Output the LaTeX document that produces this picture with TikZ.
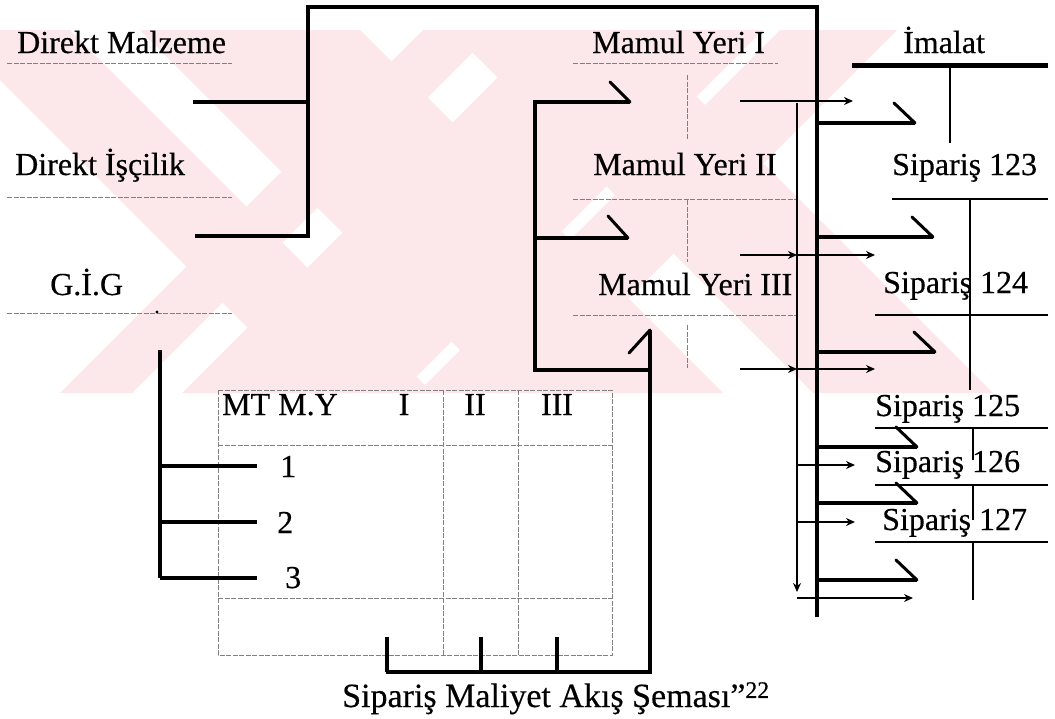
\documentclass[tikz,border=0pt]{standalone}
\usepackage{fontspec}
\setmainfont{Liberation Serif}[FakeBold=0.4]
\usetikzlibrary{arrows.meta}
\definecolor{wmark}{RGB}{252,232,235}

\begin{document}
\begin{tikzpicture}[x=1pt, y=-1pt, >={Stealth[length=9pt,width=8pt]},
    heavy/.style={line width=4pt},
    barb/.style={line width=3pt, line cap=round},
    stem/.style={line width=2.2pt},
    thinarrow/.style={line width=1.5pt, ->},
    dotrule/.style={gray, line width=0.8pt, dash pattern=on 5pt off 1.5pt},
    lbl/.style={anchor=base west, inner sep=0pt, font=\fontsize{32}{38}\selectfont}]
    \useasboundingbox (0,0) rectangle (1055,718);

    % watermark bands: / bands by x+y, \ bands by x-y
    \begin{scope}
        \clip (0,30) rectangle (1055,393);
        \foreach \a/\b in {453/525, 575/793, 810/927}
            \fill[wmark] (\a-30,30) -- (\b-30,30) -- (\b-393,393) -- (\a-393,393) -- cycle;
        \foreach \a/\b in {-80/40, 110/330, 420/600}
            \fill[wmark] (\a+30,30) -- (\b+30,30) -- (\b+393,393) -- (\a+393,393) -- cycle;
    \end{scope}

    % labels
    \node[lbl] (dm) at (17,53) {Direkt Malzeme};
    \node[lbl] (di) at (15,175) {Direkt İşçilik};
    \node[lbl] (gig) at (50,295) {G.İ.G};
    \node[lbl] (my1) at (592,53) {Mamul Yeri I};
    \node[lbl] (my2) at (593,175) {Mamul Yeri II};
    \node[lbl] (my3) at (598,295) {Mamul Yeri III};
    \node[lbl] (imalat) at (903,53) {İmalat};
    \node[lbl] (s123) at (892,175) {Sipariş 123};
    \node[lbl] (s124) at (883,293) {Sipariş 124};
    \node[lbl] (s125) at (875,416) {Sipariş 125};
    \node[lbl] (s126) at (875,472) {Sipariş 126};
    \node[lbl] (s127) at (882,530) {Sipariş 127};

    % underlines
    \foreach \y in {63,197,313}
        \draw[dotrule] (7,\y) -- (232,\y);
    \fill (157,312) circle (1.6pt);
    \draw[dotrule] (573,63) -- (778,63);
    \draw[dotrule] (573,199) -- (797,199);
    \draw[dotrule] (573,315) -- (797,315);
    \draw[dotrule] (687,75) -- (687,140);
    \draw[dotrule] (687,200) -- (687,262);
    \draw[dotrule] (687,325) -- (687,368);

    % table
    \draw[dotrule] (218,390) rectangle (612,655);
    \draw[dotrule] (218,445) -- (612,445);
    \draw[dotrule] (218,598) -- (612,598);
    \foreach \x in {443,518}
        \draw[dotrule] (\x,390) -- (\x,655);
    \node[lbl] (mtmy) at (222,415) {MT M.Y};
    \node[lbl, anchor=base] (c1) at (404,415) {I};
    \node[lbl, anchor=base] (c2) at (475,415) {II};
    \node[lbl, anchor=base] (c3) at (557,415) {III};
    \node[lbl] (r1) at (280,477) {1};
    \node[lbl] (r2) at (277,533) {2};
    \node[lbl] (r3) at (285,588) {3};

    % direct costs into the spine
    \draw[heavy] (193,102) -- (308,102);
    \draw[heavy] (195,236) -- (308,236) -- (308,7) -- (817,7) -- (817,617);

    % G.I.G bracket
    \draw[heavy] (160,350) -- (160,578);
    \foreach \y in {466,522,578}
        \draw[heavy] (160,\y) -- (257,\y);

    % mamul yeri bracket
    \draw[heavy] (630,102) -- (535,102) -- (535,370) -- (650,370);
    \draw[heavy] (535,238) -- (628,238);
    \draw[barb] (630,102) -- (610,82);
    \draw[barb] (628,238) -- (608,216);
    \draw[heavy] (386,672) -- (650,672) -- (650,330);
    \draw[barb] (650,330) -- (629,353);
    \foreach \x in {387,481,557}
        \draw[heavy] (\x,672) -- (\x,637);

    % imalat and orders
    \draw[line width=5pt] (852,65) -- (1048,65);
    \draw[stem] (950,65) -- (950,143);
    \draw[stem] (892,199) -- (1048,199);
    \draw[stem] (970,199) -- (970,390);
    \draw[stem] (875,315) -- (1048,315);
    \draw[stem] (875,428) -- (1048,428);
    \draw[stem] (973,428) -- (973,460);
    \draw[stem] (875,485) -- (1048,485);
    \draw[stem] (973,485) -- (973,520);
    \draw[stem] (875,542) -- (1048,542);
    \draw[stem] (973,542) -- (973,600);

    % spine branches
    \foreach \y/\e in {123/915, 237/933, 352/935, 447/917, 503/917, 580/917} {
        \draw[heavy] (817,\y) -- (\e,\y);
        \draw[barb] (\e,\y) -- ++(-21,-20);
    }

    % thin arrows
    \draw[thinarrow] (740,101) -- (853,101);
    \draw[line width=2pt, ->] (797,103) -- (797,592);
    \foreach \y in {255,369} {
        \draw[thinarrow] (740,\y) -- (797,\y);
        \draw[thinarrow] (797,\y) -- (875,\y);
    }
    \draw[thinarrow] (797,465) -- (855,465);
    \draw[thinarrow] (797,522) -- (855,522);
    \draw[thinarrow] (797,598) -- (913,598);

    \node[lbl, font=\fontsize{34}{40}\selectfont] (cap) at (342,707) {Sipariş Maliyet Akış Şeması”\textsuperscript{22}};
\end{tikzpicture}
\end{document}
